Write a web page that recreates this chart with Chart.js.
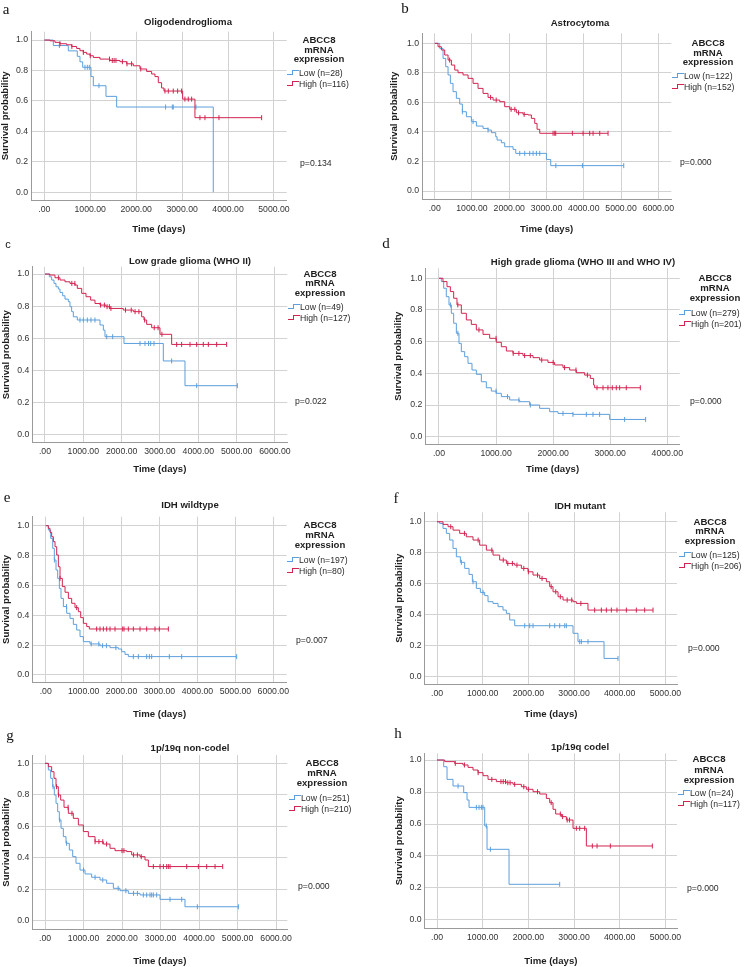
<!DOCTYPE html>
<html>
<head>
<meta charset="utf-8">
<script src="https://cdn.jsdelivr.net/npm/chart.js@4.4.1/dist/chart.umd.min.js"></script>
<style>
  body { margin: 0; background: #fff; }
  #fig { position: relative; width: 746px; height: 967px; overflow: hidden; }
  #fig canvas { position: absolute; }
  .t { position: absolute; white-space: nowrap; font-family: 'Liberation Sans', Arial, sans-serif; color: #1e1e1e; line-height: 1; }
  .c { transform: translate(-50%, -50%); }
  .l { transform: translate(0, -50%); }
  .bold { font-weight: bold; font-size: 9.6px; }
  .item { font-size: 8.7px; color: #2a2a2a; }
  .letter { font-family: 'Liberation Serif', 'Times New Roman', serif; font-size: 15px; color: #111; }
  .letter.sans { font-family: 'Liberation Sans', Arial, sans-serif; font-size: 11px; }
  .ico { position: absolute; width: 11px; height: 5px; }
  .ico::before { content: ''; position: absolute; left: 0; bottom: 0; width: 5px; border-bottom: 1px solid var(--c); }
  .ico::after { content: ''; position: absolute; left: 5px; top: 0; width: 6px; height: 4px; border-top: 1px solid var(--c); border-left: 1px solid var(--c); }
</style>
</head>
<body>
<div id="fig"></div>
<script>
// tick labels / categories
const xTicks4 = [0, 1000, 2000, 3000, 4000];
const xTicks5 = [0, 1000, 2000, 3000, 4000, 5000];
const xTicks6 = [0, 1000, 2000, 3000, 4000, 5000, 6000];
const yTicks = [0, 0.2, 0.4, 0.6, 0.8, 1.0];
const legendHead = ['ABCC8', 'mRNA', 'expression'];
const letters = ['a', 'b', 'c', 'd', 'e', 'f', 'g', 'h'];
const titles = ['Oligodendroglioma', 'Astrocytoma', 'Low grade glioma (WHO II)',
  'High grade glioma (WHO III and WHO IV)', 'IDH wildtype', 'IDH mutant',
  '1p/19q non-codel', '1p/19q codel'];
const nLow = [28, 122, 49, 279, 197, 125, 251, 24];
const nHigh = [116, 152, 127, 201, 80, 206, 210, 117];
const pValues = ['0.134', '0.000', '0.022', '0.000', '0.007', '0.000', '0.000', '0.000'];

// a - Oligodendroglioma
const aLowT = [0, 196, 522, 718, 776, 835, 1016, 1067, 1343, 1575, 3679];
const aLowS = [1, 0.964, 0.929, 0.893, 0.857, 0.821, 0.76, 0.70, 0.63, 0.56, 0];
const aLowC = [327, 885, 936, 980, 1190, 2641, 2787, 2808, 3302];
const aHighT = [0, 123, 232, 341, 486, 595, 704, 776, 849, 922, 994, 1067, 1212, 1430, 1647, 1792, 1938, 2083, 2228, 2337, 2409, 2482, 2554, 2605, 3012, 3280];
const aHighS = [1, 0.995, 0.985, 0.976, 0.969, 0.958, 0.945, 0.930, 0.919, 0.908, 0.897, 0.886, 0.875, 0.866, 0.858, 0.844, 0.831, 0.810, 0.794, 0.777, 0.760, 0.720, 0.685, 0.665, 0.612, 0.490];
const aHighC = [341, 600, 850, 1000, 1420, 1480, 1520, 1560, 1700, 1800, 1900, 2100, 2627, 2700, 2808, 2903, 2990, 3062, 3135, 3208, 3389, 3498, 3803, 4732];

// b - Astrocytoma
const bLowT = [0, 134, 224, 295, 358, 420, 492, 581, 671, 742, 850, 984, 1118, 1297, 1431, 1521, 1637, 1673, 1789, 1878, 2102, 2174, 2997, 3113];
const bLowS = [1, 0.966, 0.898, 0.842, 0.786, 0.729, 0.673, 0.628, 0.589, 0.537, 0.503, 0.470, 0.440, 0.424, 0.413, 0.395, 0.368, 0.345, 0.327, 0.300, 0.282, 0.255, 0.214, 0.172];
const bLowC = [742, 1029, 1431, 2281, 2415, 2549, 2639, 2728, 2818, 3250, 3963, 5072];
const bHighT = [0, 89, 179, 268, 358, 447, 537, 626, 760, 895, 1029, 1163, 1297, 1431, 1565, 1744, 1878, 2013, 2192, 2370, 2505, 2594, 2684, 2746, 2818];
const bHighS = [1, 0.977, 0.955, 0.921, 0.887, 0.853, 0.819, 0.801, 0.786, 0.763, 0.729, 0.695, 0.661, 0.634, 0.616, 0.605, 0.571, 0.553, 0.530, 0.519, 0.515, 0.492, 0.458, 0.418, 0.391];
const bHighC = [400, 1500, 1650, 2050, 2150, 2250, 2400, 3175, 3220, 3247, 3694, 3981, 4159, 4249, 4428, 4651];

// c - Low grade glioma
const cLowT = [0, 113, 174, 235, 287, 348, 391, 461, 522, 609, 652, 696, 739, 843, 1435, 1522, 1565, 2061, 3087, 3652];
const cLowS = [1, 0.983, 0.963, 0.942, 0.921, 0.907, 0.886, 0.865, 0.844, 0.828, 0.797, 0.766, 0.734, 0.714, 0.683, 0.651, 0.610, 0.568, 0.459, 0.305];
const cLowC = [913, 1000, 1104, 1200, 1304, 1609, 1765, 2478, 2609, 2700, 2757, 2843, 3304, 3957, 5018];
const cHighT = [0, 130, 261, 391, 522, 652, 783, 843, 957, 1070, 1191, 1304, 1435, 1591, 1696, 2043, 2304, 2522, 2583, 2652, 2783, 3000, 3304];
const cHighS = [1, 0.994, 0.977, 0.963, 0.952, 0.942, 0.932, 0.911, 0.880, 0.859, 0.838, 0.817, 0.807, 0.797, 0.786, 0.776, 0.766, 0.734, 0.714, 0.687, 0.666, 0.625, 0.562];
const cHighC = [350, 700, 780, 1450, 1550, 1620, 1680, 1720, 2100, 2250, 2350, 2450, 2600, 2850, 2950, 3050, 3435, 3565, 3783, 3957, 4130, 4261, 4478, 4739];

// d - High grade glioma
const dLowT = [0, 41, 82, 128, 175, 216, 257, 304, 350, 391, 450, 508, 578, 654, 742, 829, 917, 1004, 1092, 1238, 1413, 1588, 1763, 1939, 2085, 2347, 2990];
const dLowS = [1, 0.979, 0.937, 0.884, 0.832, 0.779, 0.716, 0.653, 0.589, 0.537, 0.505, 0.463, 0.421, 0.394, 0.347, 0.309, 0.288, 0.274, 0.253, 0.232, 0.221, 0.200, 0.179, 0.158, 0.147, 0.141, 0.109];
const dLowC = [200, 330, 1000, 1200, 1400, 1600, 2172, 2347, 2581, 2698, 2814, 3252, 3620];
const dHighT = [0, 70, 140, 199, 257, 315, 391, 479, 566, 654, 771, 888, 1004, 1092, 1180, 1296, 1471, 1647, 1763, 1909, 2026, 2172, 2289, 2406, 2552, 2651, 2709, 2727];
const dHighS = [1, 0.979, 0.947, 0.916, 0.874, 0.832, 0.779, 0.737, 0.709, 0.674, 0.646, 0.621, 0.596, 0.568, 0.541, 0.526, 0.512, 0.499, 0.484, 0.469, 0.453, 0.436, 0.421, 0.404, 0.389, 0.368, 0.326, 0.309];
const dHighC = [330, 700, 1000, 1300, 1400, 1500, 1600, 1800, 2000, 2200, 2400, 2600, 2768, 2873, 2960, 3036, 3106, 3165, 3281, 3527];

// e - IDH wildtype
const eLowT = [0, 70, 132, 185, 228, 272, 316, 360, 404, 466, 554, 641, 729, 817, 905, 993, 1169, 1432, 1696, 1916, 2003, 2091, 2179];
const eLowS = [1, 0.971, 0.915, 0.848, 0.770, 0.703, 0.647, 0.580, 0.513, 0.458, 0.413, 0.379, 0.339, 0.301, 0.257, 0.223, 0.208, 0.196, 0.183, 0.174, 0.156, 0.138, 0.123];
const eLowC = [230, 550, 1200, 1400, 1500, 1600, 1850, 2311, 2443, 2662, 2733, 2794, 3260, 3585, 5035];
const eHighT = [0, 70, 114, 158, 202, 246, 290, 334, 378, 439, 510, 598, 685, 773, 861, 923, 993, 1081, 1151];
const eHighS = [1, 0.982, 0.955, 0.926, 0.893, 0.859, 0.804, 0.725, 0.647, 0.592, 0.554, 0.513, 0.480, 0.451, 0.424, 0.384, 0.346, 0.324, 0.308];
const eHighC = [378, 817, 1344, 1432, 1520, 1608, 1696, 1828, 2030, 2065, 2179, 2311, 2487, 2662, 2882, 2996, 3234];

// f - IDH mutant
const fLowT = [0, 58, 131, 204, 277, 350, 423, 511, 606, 701, 774, 861, 949, 1044, 1117, 1226, 1336, 1445, 1518, 1591, 1701, 2978, 3087, 3657];
const fLowS = [1, 0.989, 0.957, 0.925, 0.882, 0.828, 0.774, 0.738, 0.699, 0.660, 0.613, 0.570, 0.544, 0.523, 0.484, 0.473, 0.452, 0.430, 0.409, 0.366, 0.329, 0.280, 0.226, 0.118];
const fLowC = [533, 788, 1007, 1920, 2029, 2102, 2467, 2577, 2686, 2796, 2832, 3124, 3161, 3306, 3963];
const fHighT = [0, 131, 241, 350, 496, 642, 788, 934, 1080, 1226, 1372, 1518, 1701, 1847, 1993, 2102, 2248, 2394, 2467, 2540, 2650, 2759, 2978, 3051, 3306];
const fHighS = [1, 0.983, 0.968, 0.946, 0.925, 0.903, 0.882, 0.849, 0.817, 0.785, 0.753, 0.731, 0.720, 0.699, 0.677, 0.656, 0.634, 0.613, 0.581, 0.548, 0.516, 0.495, 0.484, 0.473, 0.430];
const fHighC = [300, 600, 900, 1200, 1450, 1550, 1650, 1750, 1900, 2000, 2200, 2300, 2500, 2600, 2700, 2850, 2950, 3150, 3452, 3598, 3708, 3817, 3941, 4146, 4365, 4547, 4730];

// g - 1p/19q non-codel
const gLowT = [0, 87, 147, 199, 242, 286, 329, 372, 416, 476, 545, 632, 719, 805, 909, 1039, 1212, 1429, 1602, 1775, 1948, 2165, 2468, 2987, 3636];
const gLowS = [1, 0.958, 0.905, 0.852, 0.799, 0.746, 0.693, 0.641, 0.588, 0.535, 0.493, 0.450, 0.408, 0.366, 0.323, 0.298, 0.277, 0.260, 0.239, 0.207, 0.192, 0.175, 0.165, 0.137, 0.090];
const gLowC = [210, 380, 560, 1000, 1300, 1500, 1900, 2100, 2300, 2400, 2554, 2641, 2727, 2771, 2814, 2900, 3247, 3550, 3957, 5022];
const gHighT = [0, 87, 173, 234, 286, 346, 407, 494, 606, 736, 866, 996, 1126, 1299, 1515, 1688, 1818, 2121, 2251, 2468, 2597, 2684];
const gHighS = [1, 0.979, 0.947, 0.905, 0.852, 0.799, 0.767, 0.721, 0.683, 0.651, 0.609, 0.567, 0.535, 0.503, 0.488, 0.461, 0.446, 0.440, 0.419, 0.408, 0.387, 0.345];
const gHighC = [300, 350, 600, 700, 1300, 1400, 1500, 1600, 2000, 2050, 2300, 2400, 2500, 2814, 2987, 3074, 3160, 3203, 3247, 3680, 3983, 4199, 4416, 4615];

// h - 1p/19q codel
const hLowT = [0, 146, 219, 350, 584, 657, 701, 1044, 1095, 1577];
const hLowS = [1, 0.958, 0.879, 0.8375, 0.796, 0.75, 0.704, 0.5875, 0.4417, 0.223];
const hLowC = [460, 861, 920, 971, 1007, 1080, 1168, 2686];
const hHighT = [0, 168, 387, 569, 679, 788, 898, 1007, 1117, 1299, 1518, 1664, 1847, 1956, 2102, 2248, 2394, 2467, 2540, 2598, 2723, 2832, 2978, 3270];
const hHighS = [1, 0.990, 0.979, 0.969, 0.954, 0.9375, 0.921, 0.902, 0.879, 0.865, 0.858, 0.848, 0.833, 0.817, 0.802, 0.7875, 0.760, 0.733, 0.692, 0.6625, 0.646, 0.625, 0.573, 0.4625];
const hHighC = [400, 600, 900, 1200, 1400, 1450, 1500, 1550, 1600, 1700, 1900, 2000, 2200, 2500, 2700, 2750, 2850, 2900, 3051, 3124, 3233, 3401, 3504, 3795, 4715];

const lowData = [[aLowT, aLowS, aLowC], [bLowT, bLowS, bLowC], [cLowT, cLowS, cLowC], [dLowT, dLowS, dLowC],
  [eLowT, eLowS, eLowC], [fLowT, fLowS, fLowC], [gLowT, gLowS, gLowC], [hLowT, hLowS, hLowC]];
const highData = [[aHighT, aHighS, aHighC], [bHighT, bHighS, bHighC], [cHighT, cHighS, cHighC], [dHighT, dHighS, dHighC],
  [eHighT, eHighS, eHighC], [fHighT, fHighS, fHighC], [gHighT, gHighS, gHighC], [hHighT, hHighS, hHighC]];

const BLUE = '#5d9fdc';
const RED = '#d3234f';

// page layout of each panel (pixels), axis ranges
const panels = [
  { cv: [0, 0, 373, 235], box: [31, 31.7, 286.7, 200], xr: [-290, 5278], yr: [-0.051, 1.055], ticks: xTicks5,
    letter: [6, 9], title: [188, 22], lcx: 319, head: [40, 50, 59], icoX: 287, items: [73, 83.5], p: [300, 163], xtp: 2.3, ytp: 0 },
  { cv: [373, 0, 373, 235], box: [422, 33.3, 671.3, 199.3], xr: [-341, 6348], yr: [-0.056, 1.068], ticks: xTicks6,
    letter: [405, 8], title: [580, 23], lcx: 708, head: [43, 53, 62], icoX: 672, items: [76, 87], p: [680, 162], xtp: 5.3, ytp: 16 },
  { cv: [0, 235, 373, 240], box: [32.3, 266.7, 287.3, 442.7], xr: [-331, 6321], yr: [-0.05, 1.046], ticks: xTicks6,
    letter: [8, 244], sans: true, title: [190, 261], lcx: 320, head: [274, 283, 293], icoX: 288, items: [307, 318], p: [295, 401], xtp: 1, ytp: 0.3 },
  { cv: [373, 235, 373, 240], box: [425.3, 268.3, 679.7, 444], xr: [-240, 4217], yr: [-0.046, 1.063], ticks: xTicks4,
    letter: [386, 243], title: [583, 262], lcx: 715, head: [278, 288, 298], icoX: 679, items: [313, 324], p: [690, 401], xtp: 0, ytp: 20 },
  { cv: [0, 475, 373, 245], box: [32.3, 516.7, 286.7, 682.3], xr: [-353, 6354], yr: [-0.049, 1.06], ticks: xTicks6,
    letter: [7, 497], title: [190, 505], lcx: 320, head: [525, 535, 545], icoX: 287, items: [560, 571], p: [296, 640], xtp: 7, ytp: 0.3 },
  { cv: [373, 475, 373, 245], box: [424.7, 512.3, 677, 684.3], xr: [-270, 5255], yr: [-0.049, 1.061], ticks: xTicks5,
    letter: [396, 498], title: [580, 506], lcx: 710, head: [522, 531, 541], icoX: 679, items: [555, 566], p: [688, 648], xtp: 3.6, ytp: 21 },
  { cv: [0, 720, 373, 247], box: [32.3, 755, 287.3, 929.3], xr: [-330, 6293], yr: [-0.053, 1.053], ticks: xTicks6,
    letter: [10, 735], title: [190, 748], lcx: 322, head: [763, 773, 783], icoX: 289, items: [798, 809], p: [298, 886], xtp: 6.3, ytp: 0.3 },
  { cv: [373, 720, 373, 247], box: [424.7, 753.3, 677, 928.3], xr: [-270, 5255], yr: [-0.052, 1.042], ticks: xTicks5,
    letter: [398, 733], title: [580, 747], lcx: 709, head: [759, 770, 780], icoX: 678, items: [793, 804], p: [687, 888], xtp: 7.3, ytp: 21 },
];

Chart.defaults.font.family = "'Liberation Sans', Arial, sans-serif";

const fig = document.getElementById('fig');

const survAt = (T, S, t) => {
  let s = S[0];
  T.forEach((v, i) => { if (v <= t) s = S[i]; });
  return s;
};

const stepLine = ([T, S, C]) => {
  const pts = T.map((t, i) => ({ x: t, y: S[i] }));
  pts.push({ x: Math.max(T[T.length - 1], ...C), y: S[S.length - 1] });
  return pts;
};

const censorPts = ([T, S, C]) => C.map((t) => ({ x: t, y: survAt(T, S, t) }));

const addText = (txt, x, y, cls) => {
  const d = document.createElement('div');
  d.className = 't ' + cls;
  d.textContent = txt;
  d.style.left = x + 'px';
  d.style.top = y + 'px';
  fig.appendChild(d);
  return d;
};

panels.forEach((pn, i) => {
  const [cx, cy, cw, ch] = pn.cv;
  const cv = document.createElement('canvas');
  cv.width = cw;
  cv.height = ch;
  cv.style.left = cx + 'px';
  cv.style.top = cy + 'px';
  fig.appendChild(cv);

  const boxL = pn.box[0] - cx, boxT = pn.box[1] - cy, boxR = pn.box[2] - cx, boxB = pn.box[3] - cy;

  new Chart(cv, {
    type: 'scatter',
    data: {
      datasets: [
        { data: stepLine(highData[i]), showLine: true, stepped: true, borderColor: RED, borderWidth: 1, pointRadius: 0 },
        { data: censorPts(highData[i]), pointStyle: 'line', rotation: 90, pointRadius: 2.5, borderColor: RED, borderWidth: 1 },
        { data: stepLine(lowData[i]), showLine: true, stepped: true, borderColor: BLUE, borderWidth: 1, pointRadius: 0 },
        { data: censorPts(lowData[i]), pointStyle: 'line', rotation: 90, pointRadius: 2.5, borderColor: BLUE, borderWidth: 1 },
      ],
    },
    options: {
      responsive: false,
      animation: false,
      layout: { padding: { left: 0, top: boxT, right: cw - boxR, bottom: 0 } },
      plugins: { legend: { display: false }, tooltip: { enabled: false } },
      scales: {
        x: {
          type: 'linear',
          min: pn.xr[0],
          max: pn.xr[1],
          afterBuildTicks: (s) => { s.ticks = pn.ticks.map((v) => ({ value: v })); },
          afterFit: (s) => { s.height = ch - boxB; s.paddingLeft = 0; s.paddingRight = 0; },
          ticks: {
            autoSkip: false, maxRotation: 0, padding: 4, color: '#333', font: { size: 8.7 },
            callback: (v) => (v === 0 ? '.00' : v.toFixed(2)),
          },
          grid: { color: '#d2d2d2', drawTicks: false },
          border: { color: '#9a9a9a' },
          title: { display: true, text: 'Time (days)', color: '#1e1e1e', font: { size: 9.6, weight: 'bold' }, padding: { top: pn.xtp, bottom: 0 } },
        },
        y: {
          min: pn.yr[0],
          max: pn.yr[1],
          afterBuildTicks: (s) => { s.ticks = yTicks.map((v) => ({ value: v })); },
          afterFit: (s) => { s.width = boxL; s.paddingTop = 0; s.paddingBottom = 0; },
          ticks: { padding: 3, color: '#333', font: { size: 8.7 }, callback: (v) => v.toFixed(1) },
          grid: { color: '#d2d2d2', drawTicks: false },
          border: { color: '#9a9a9a' },
          title: { display: true, text: 'Survival probability', color: '#1e1e1e', font: { size: 9.6, weight: 'bold' }, padding: { top: pn.ytp, bottom: 0 } },
        },
      },
    },
  });

  // labels around the plot
  addText(letters[i], pn.letter[0], pn.letter[1], 'c letter' + (pn.sans ? ' sans' : ''));
  addText(titles[i], pn.title[0], pn.title[1], 'c bold');
  legendHead.forEach((h, k) => addText(h, pn.lcx, pn.head[k], 'c bold'));
  [[BLUE, 'Low (n=' + nLow[i] + ')'], [RED, 'High (n=' + nHigh[i] + ')']].forEach(([col, txt], k) => {
    const ico = document.createElement('div');
    ico.className = 'ico';
    ico.style.setProperty('--c', col);
    ico.style.left = pn.icoX + 'px';
    ico.style.top = (pn.items[k] - 3) + 'px';
    fig.appendChild(ico);
    addText(txt, pn.icoX + 12, pn.items[k], 'l item');
  });
  addText('p=' + pValues[i], pn.p[0], pn.p[1], 'l item');
});
</script>
</body>
</html>
